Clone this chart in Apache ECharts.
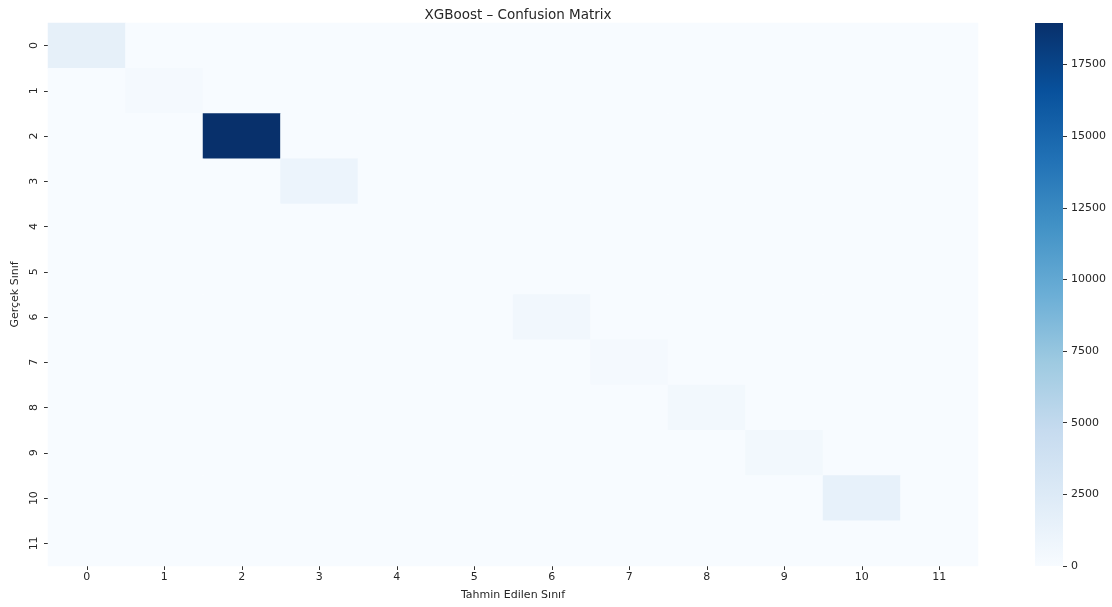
<!DOCTYPE html>
<html>
<head>
<meta charset="utf-8">
<script src="https://cdn.jsdelivr.net/npm/echarts@6/dist/echarts.min.js"></script>
<style>
  html, body { margin: 0; padding: 0; background: #fff; }
  #chart { width: 1112px; height: 607px; }
</style>
</head>
<body>
<div id="chart"></div>
<script>
const classLabels = ['0', '1', '2', '3', '4', '5', '6', '7', '8', '9', '10', '11']
// diagonal counts (off-diagonal cells look empty)
const diagonalCounts = [1650, 280, 18950, 1000, 20, 30, 560, 240, 480, 460, 1550, 10]
const colorbarTicks = [0, 2500, 5000, 7500, 10000, 12500, 15000, 17500]
const blues = ['#f7fbff', '#deebf7', '#c6dbef', '#9ecae1', '#6baed6', '#4292c6', '#2171b5', '#08519c', '#08306b']

const vmax = Math.max(...diagonalCounts)

const cells = []
classLabels.forEach((_, r) => {
  classLabels.forEach((_, c) => {
    cells.push([c, r, r === c ? diagonalCounts[r] : 0])
  })
})

const font = 'DejaVu Sans'
const chart = echarts.init(document.getElementById('chart'))

// colorbar fill, bottom (0) to top (vmax)
const barGradient = new echarts.graphic.LinearGradient(0, 1, 0, 0,
  blues.map((c, i) => ({ offset: i / (blues.length - 1), color: c })))

chart.setOption({
  animation: false,
  textStyle: { fontFamily: font },
  title: {
    text: 'XGBoost – Confusion Matrix',
    left: 513, top: 3, textAlign: 'center',
    textStyle: { fontFamily: font, fontSize: 13.5, fontWeight: 'normal', color: '#262626' }
  },
  grid: [
    { left: 48, right: 134, top: 23, bottom: 41 },
    { left: 1035, width: 28, top: 23, bottom: 41 }
  ],
  xAxis: [
    {
      type: 'category', data: classLabels, gridIndex: 0,
      name: 'Tahmin Edilen Sınıf', nameLocation: 'middle', nameGap: 24,
      nameTextStyle: { fontFamily: font, fontSize: 11, color: '#262626' },
      axisLine: { show: false },
      axisTick: { show: true, alignWithLabel: true, length: 4, lineStyle: { color: '#333' } },
      axisLabel: { fontFamily: font, fontSize: 11, color: '#262626', margin: 6 },
      splitLine: { show: false }
    },
    { type: 'category', data: ['cb'], gridIndex: 1, show: false }
  ],
  yAxis: [
    {
      type: 'category', data: classLabels, gridIndex: 0, inverse: true,
      name: 'Gerçek Sınıf', nameLocation: 'middle', nameGap: 27, nameRotate: 90,
      nameTextStyle: { fontFamily: font, fontSize: 11, color: '#262626' },
      axisLine: { show: false },
      axisTick: { show: true, alignWithLabel: true, length: 4, lineStyle: { color: '#333' } },
      axisLabel: { fontFamily: font, fontSize: 11, color: '#262626', rotate: 90, margin: 8 },
      splitLine: { show: false }
    },
    {
      type: 'value', gridIndex: 1, position: 'right', min: 0, max: vmax,
      interval: 2500,
      axisLine: { show: false, onZero: false },
      axisTick: { show: true, length: 4, lineStyle: { color: '#333' } },
      axisLabel: {
        fontFamily: font, fontSize: 11, color: '#262626', margin: 8,
        showMaxLabel: false,
        formatter: v => colorbarTicks.includes(v) ? String(v) : ''
      },
      splitLine: { show: false }
    }
  ],
  visualMap: {
    type: 'continuous',
    show: false,
    min: 0, max: vmax,
    seriesIndex: 0,
    inRange: { color: blues }
  },
  series: [
    {
      type: 'heatmap',
      xAxisIndex: 0, yAxisIndex: 0,
      data: cells,
      label: { show: false },
      emphasis: { disabled: true }
    },
    {
      // colorbar
      type: 'bar',
      xAxisIndex: 1, yAxisIndex: 1,
      data: [vmax],
      barWidth: '100%',
      itemStyle: { color: barGradient },
      silent: true
    }
  ]
})
</script>
</body>
</html>
